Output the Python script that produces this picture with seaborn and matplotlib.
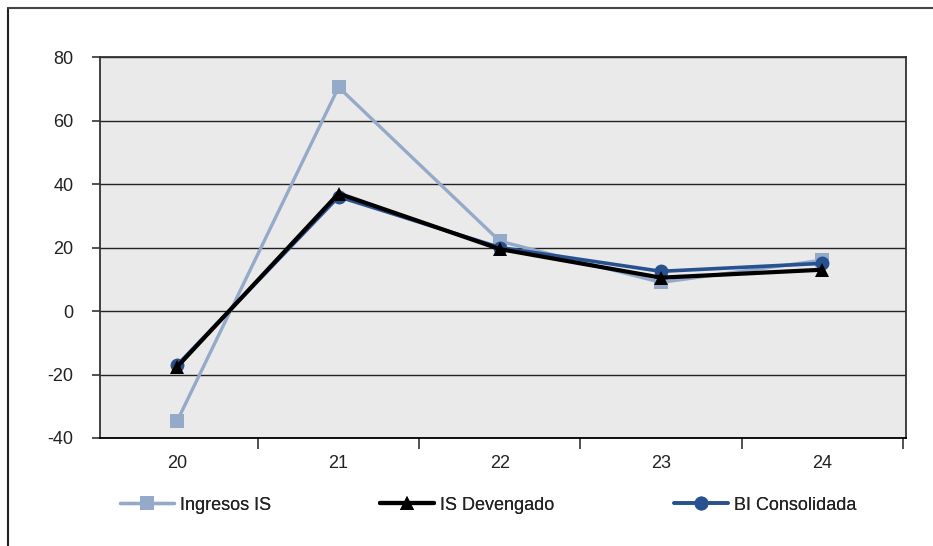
import matplotlib
matplotlib.use("Agg")
import matplotlib.pyplot as plt
import seaborn as sns
import pandas as pd
from matplotlib.lines import Line2D
from matplotlib.ticker import FixedLocator

categories = ["20", "21", "22", "23", "24"]
ingresos_is = [-34.5, 70.5, 22.0, 9.0, 16.0]
is_devengado = [-17.5, 37.0, 19.5, 10.5, 13.0]
bi_consolidada = [-17.0, 36.0, 20.0, 12.5, 15.0]
y_ticks = [-40, -20, 0, 20, 40, 60, 80]

sns.set_theme(style="white")
plt.rcParams['font.family'] = ['Liberation Sans', 'DejaVu Sans']

fig = plt.figure(figsize=(9.33, 5.46), dpi=100)
ax = fig.add_axes([100/933, 1-438/546, 806/933, 381/546])
ax.set_facecolor("#EAEAEA")

c_ing = "#94AAC8"
c_dev = "#000000"
c_bi = "#28528F"
ms = 10

df_ing = pd.DataFrame({"x": categories, "y": ingresos_is})
df_dev = pd.DataFrame({"x": categories, "y": is_devengado})
df_bi = pd.DataFrame({"x": categories, "y": bi_consolidada})

sns.lineplot(data=df_ing, x="x", y="y", ax=ax, color=c_ing, lw=2.4, marker="s",
             markersize=ms, markeredgewidth=0, sort=False, zorder=3)
sns.lineplot(data=df_bi, x="x", y="y", ax=ax, color=c_bi, lw=2.6, marker="o",
             markersize=ms, markeredgewidth=0, sort=False, zorder=4)
sns.lineplot(data=df_dev, x="x", y="y", ax=ax, color=c_dev, lw=3.0, marker="^",
             markersize=ms, markeredgewidth=0, sort=False, zorder=5)

fs = 13
ax.set_xlim(-0.48, 4.52)
ax.set_ylim(-40, 80)
ax.set_yticks(y_ticks)
ax.set_yticklabels([str(v) for v in y_ticks])
ax.set_xticks(range(len(categories)))
ax.set_xticklabels(categories)
ax.xaxis.set_minor_locator(FixedLocator([i - 0.5 for i in range(len(categories) + 1)]))
ax.tick_params(axis="x", which="major", length=0, pad=12, labelsize=fs, labelcolor="#222222")
ax.tick_params(axis="x", which="minor", length=8, width=1.2, color="#333333", direction="out", bottom=True)
ax.tick_params(axis="y", which="major", length=6, width=1.2, color="#333333", direction="out",
               pad=13, labelsize=fs, labelcolor="#222222", left=True)
ax.set_xlabel("")
ax.set_ylabel("")
ax.grid(axis="y", color="#222222", lw=1.0)
ax.set_axisbelow(True)
for s in ["left", "right", "top", "bottom"]:
    ax.spines[s].set_visible(True)
    ax.spines[s].set_color("#333333")
    ax.spines[s].set_linewidth(1.3)
ax.spines["bottom"].set_color("#000000")

# legends
def handle(color, marker, lw):
    return Line2D([], [], color=color, lw=lw, marker=marker, markersize=ms, markeredgewidth=0)

items = [
    (handle(c_ing, "s", 2.4), "Ingresos IS", 120),
    (handle(c_dev, "^", 3.0), "IS Devengado", 380),
    (handle(c_bi, "o", 2.6), "BI Consolidada", 674),
]
for h, lab, xpx in items:
    leg = fig.legend([h], [lab], loc="center left", bbox_to_anchor=(xpx/933, 1-505/546),
                     frameon=False, fontsize=fs, handlelength=3.0, handletextpad=0.3,
                     borderpad=0, borderaxespad=0, labelcolor="#222222")
    fig.add_artist(leg)

# outer frame
fig.add_artist(Line2D([8/933, 8/933], [0, 1-8/546], transform=fig.transFigure, color="#222222", lw=1.5))
fig.add_artist(Line2D([8/933, 1], [1-8/546, 1-8/546], transform=fig.transFigure, color="#444444", lw=1.5))

fig.savefig("out.png", dpi=100)
